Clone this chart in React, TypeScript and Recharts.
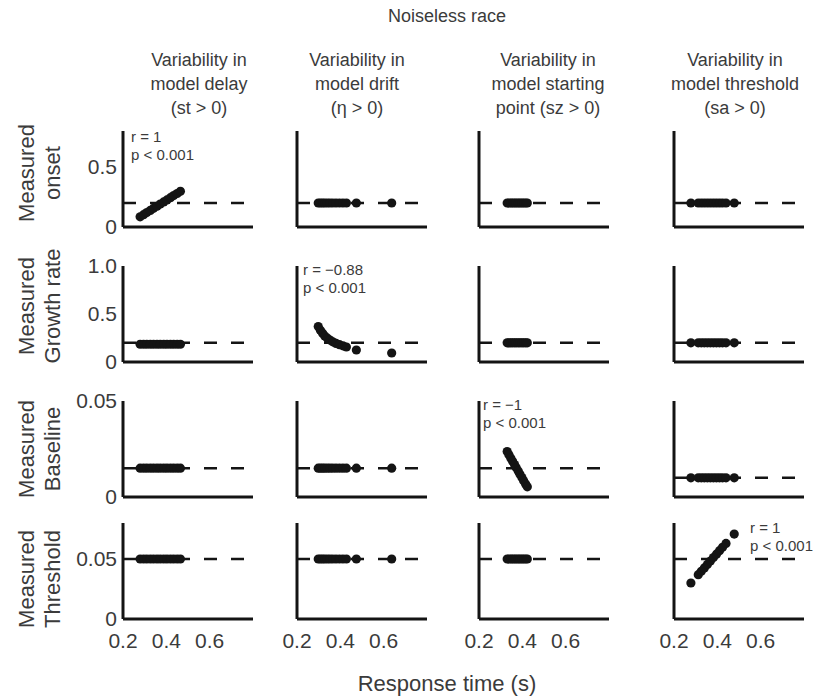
import React from 'react';
import { ScatterChart, Scatter, XAxis, YAxis, ReferenceLine } from 'recharts';

// ---------- text ----------
const figureTitle = 'Noiseless race';
const xAxisTitle = 'Response time (s)';
const columnTitles = [
  ['Variability in', 'model delay', '(st > 0)'],
  ['Variability in', 'model drift', '(η > 0)'],
  ['Variability in', 'model starting', 'point (sz > 0)'],
  ['Variability in', 'model threshold', '(sa > 0)'],
];
const rowTitles = [
  ['Measured', 'onset'],
  ['Measured', 'Growth rate'],
  ['Measured', 'Baseline'],
  ['Measured', 'Threshold'],
];

// ---------- axes ----------
const xDomain = [0.2, 0.8];
const xTicks = [0.2, 0.4, 0.6];
const xTickLabels = ['0.2', '0.4', '0.6'];

const yDomains = [
  [0, 0.8],
  [0, 1],
  [0, 0.05],
  [0, 0.08],
];
const yTicks = [
  [0, 0.5],
  [0, 0.5, 1],
  [0, 0.05],
  [0, 0.05],
];
const yTickLabels = [
  ['0', '0.5'],
  ['0', '0.5', '1.0'],
  ['0', '0.05'],
  ['0', '0.05'],
];

// generating parameter value of each row (dashed line), per column
const trueValues = [
  [0.2, 0.2, 0.2, 0.2],
  [0.2, 0.2, 0.2, 0.2],
  [0.015, 0.015, 0.015, 0.01],
  [0.05, 0.05, 0.05, 0.05],
];

// ---------- data: variability in delay (st > 0) ----------
const rtDelay = [0.279, 0.295, 0.31, 0.326, 0.341, 0.357, 0.372, 0.388, 0.403, 0.419, 0.434, 0.45, 0.465];
const onsetDelay = [0.085, 0.103, 0.12, 0.138, 0.156, 0.173, 0.191, 0.209, 0.226, 0.244, 0.262, 0.279, 0.297];
const growthDelay = [0.185, 0.185, 0.185, 0.185, 0.185, 0.185, 0.185, 0.185, 0.185, 0.185, 0.185, 0.185, 0.185];
const baselineDelay = [0.015, 0.015, 0.015, 0.015, 0.015, 0.015, 0.015, 0.015, 0.015, 0.015, 0.015, 0.015, 0.015];
const thresholdDelay = [0.05, 0.05, 0.05, 0.05, 0.05, 0.05, 0.05, 0.05, 0.05, 0.05, 0.05, 0.05, 0.05];

// ---------- data: variability in drift (eta > 0) ----------
const rtDrift = [0.298, 0.308, 0.318, 0.328, 0.34, 0.352, 0.365, 0.38, 0.396, 0.412, 0.428, 0.474, 0.637];
const onsetDrift = [0.2, 0.2, 0.2, 0.2, 0.2, 0.2, 0.2, 0.2, 0.2, 0.2, 0.2, 0.2, 0.2];
const growthDrift = [0.37, 0.33, 0.3, 0.272, 0.248, 0.228, 0.21, 0.194, 0.18, 0.168, 0.156, 0.125, 0.094];
const baselineDrift = [0.015, 0.015, 0.015, 0.015, 0.015, 0.015, 0.015, 0.015, 0.015, 0.015, 0.015, 0.015, 0.015];
const thresholdDrift = [0.05, 0.05, 0.05, 0.05, 0.05, 0.05, 0.05, 0.05, 0.05, 0.05, 0.05, 0.05, 0.05];

// ---------- data: variability in starting point (sz > 0) ----------
const rtStart = [0.33, 0.338, 0.347, 0.355, 0.364, 0.372, 0.381, 0.389, 0.398, 0.406, 0.415, 0.423];
const onsetStart = [0.2, 0.2, 0.2, 0.2, 0.2, 0.2, 0.2, 0.2, 0.2, 0.2, 0.2, 0.2];
const growthStart = [0.2, 0.2, 0.2, 0.2, 0.2, 0.2, 0.2, 0.2, 0.2, 0.2, 0.2, 0.2];
const baselineStart = [0.0237, 0.022, 0.0202, 0.0186, 0.0169, 0.0152, 0.0135, 0.0118, 0.0101, 0.0085, 0.0068, 0.0053];
const thresholdStart = [0.05, 0.05, 0.05, 0.05, 0.05, 0.05, 0.05, 0.05, 0.05, 0.05, 0.05, 0.05];

// ---------- data: variability in threshold (sa > 0) ----------
const rtThreshold = [0.278, 0.312, 0.326, 0.34, 0.354, 0.368, 0.382, 0.396, 0.41, 0.424, 0.44, 0.478];
const onsetThreshold = [0.2, 0.2, 0.2, 0.2, 0.2, 0.2, 0.2, 0.2, 0.2, 0.2, 0.2, 0.2];
const growthThreshold = [0.2, 0.2, 0.2, 0.2, 0.2, 0.2, 0.2, 0.2, 0.2, 0.2, 0.2, 0.2];
const baselineThreshold = [0.01, 0.01, 0.01, 0.01, 0.01, 0.01, 0.01, 0.01, 0.01, 0.01, 0.01, 0.01];
const thresholdThreshold = [0.03, 0.0369, 0.0398, 0.0426, 0.0455, 0.0483, 0.0512, 0.054, 0.0569, 0.0598, 0.063, 0.0708];

// correlation statistics shown in some panels
const statRows = [0, 1, 2, 3];
const statCols = [0, 1, 2, 3];
const statR = ['r = 1', 'r = −0.88', 'r = −1', 'r = 1'];
const statP = ['p < 0.001', 'p < 0.001', 'p < 0.001', 'p < 0.001'];

const responseTimes = [rtDelay, rtDrift, rtStart, rtThreshold];
const measured = [
  [onsetDelay, onsetDrift, onsetStart, onsetThreshold],
  [growthDelay, growthDrift, growthStart, growthThreshold],
  [baselineDelay, baselineDrift, baselineStart, baselineThreshold],
  [thresholdDelay, thresholdDrift, thresholdStart, thresholdThreshold],
];

// ---------- layout ----------
const FONT = '"Liberation Sans", Arial, Helvetica, sans-serif';
const TEXT = '#3b3b3b';
const INK = '#141414';

const COL_X = [123, 297, 479, 674];
const ROW_TOP = [131, 266, 401, 523];
const PLOT_W = 130;
const PLOT_H = 96;
const Y_AXIS_W = 60;
const M_TOP = 18; // room above the plot for the top tick label
const M_RIGHT = 20;
const M_BOTTOM = 2;

const COL_TITLE_X = [199, 357, 548, 735];
const ROW_TITLE_Y = [173, 306, 449, 579];
const STAT_OFFSET = [
  [8, -3],
  [6, -5],
  [4, -5],
  [76, -4],
];

function Dot(props: any) {
  const { cx, cy } = props;
  if (cx == null || cy == null) return null;
  return <circle cx={cx} cy={cy} r={4.6} fill={INK} />;
}

function Panel({ row, col }: { row: number; col: number }) {
  const isBottom = row === 3;
  const isLeft = col === 0;
  // leave room under the x axis so the "0" tick label is not clipped
  const xAxisH = isBottom ? 44 : 14;
  const width = Y_AXIS_W + PLOT_W + M_RIGHT;
  const height = M_TOP + PLOT_H + xAxisH + M_BOTTOM;
  const data = responseTimes[col].map((x, i) => ({ x, y: measured[row][col][i] }));
  const yLabels = yTickLabels[row];
  const yVals = yTicks[row];
  return (
    <div
      style={{
        position: 'absolute',
        left: COL_X[col] - Y_AXIS_W,
        top: ROW_TOP[row] - M_TOP,
        width,
        height,
      }}
    >
      <ScatterChart
        width={width}
        height={height}
        margin={{ top: M_TOP, right: M_RIGHT, bottom: M_BOTTOM, left: 0 }}
      >
        <XAxis
          type="number"
          dataKey="x"
          domain={xDomain}
          ticks={xTicks}
          allowDataOverflow
          height={xAxisH}
          axisLine={{ stroke: INK, strokeWidth: 3 }}
          tickLine={false}
          tickSize={6}
          tickMargin={8}
          tick={isBottom ? { fontSize: 21, fill: TEXT, fontFamily: FONT } : false}
          tickFormatter={(v: number) => xTickLabels[xTicks.indexOf(v)] ?? String(v)}
        />
        <YAxis
          type="number"
          dataKey="y"
          domain={yDomains[row]}
          ticks={yVals}
          allowDataOverflow
          width={Y_AXIS_W}
          axisLine={{ stroke: INK, strokeWidth: 3 }}
          tickLine={false}
          tickSize={4}
          tickMargin={2}
          interval={0}
          tick={isLeft ? { fontSize: 21, fill: TEXT, fontFamily: FONT } : false}
          tickFormatter={(v: number) => yLabels[yVals.indexOf(v)] ?? String(v)}
        />
        <ReferenceLine
          y={trueValues[row][col]}
          stroke={INK}
          strokeWidth={2.6}
          strokeDasharray="13 14"
        />
        <Scatter data={data} shape={Dot} isAnimationActive={false} />
      </ScatterChart>
    </div>
  );
}

export default function App() {
  const textBase: React.CSSProperties = {
    position: 'absolute',
    fontFamily: FONT,
    color: TEXT,
    whiteSpace: 'nowrap',
    textAlign: 'center',
  };
  const panels = [];
  for (let r = 0; r < 4; r++) {
    for (let c = 0; c < 4; c++) {
      panels.push(<Panel key={`${r}-${c}`} row={r} col={c} />);
    }
  }
  return (
    <div
      style={{
        position: 'absolute',
        left: 0,
        top: 0,
        width: 819,
        height: 696,
        background: '#ffffff',
        overflow: 'hidden',
      }}
    >
      {panels}

      <div style={{ ...textBase, left: 347, top: 5, width: 200, fontSize: 18, lineHeight: '22px' }}>
        {figureTitle}
      </div>

      {columnTitles.map((lines, c) => (
        <div
          key={`ct-${c}`}
          style={{
            ...textBase,
            left: COL_TITLE_X[c] - 90,
            top: 48,
            width: 180,
            fontSize: 18,
            lineHeight: '24px',
          }}
        >
          {lines.map((t, i) => (
            <div key={i}>{t}</div>
          ))}
        </div>
      ))}

      {rowTitles.map((lines, r) => (
        <div
          key={`rt-${r}`}
          style={{
            ...textBase,
            left: 40 - 75,
            top: ROW_TITLE_Y[r] - 26,
            width: 150,
            height: 52,
            fontSize: 22,
            lineHeight: '26px',
            transform: 'rotate(-90deg)',
            transformOrigin: '50% 50%',
          }}
        >
          {lines.map((t, i) => (
            <div key={i}>{t}</div>
          ))}
        </div>
      ))}

      {statRows.map((r, i) => {
        const c = statCols[i];
        return (
          <div
            key={`st-${i}`}
            style={{
              ...textBase,
              textAlign: 'left',
              left: COL_X[c] + STAT_OFFSET[i][0],
              top: ROW_TOP[r] + STAT_OFFSET[i][1],
              fontSize: 15,
              lineHeight: '18px',
            }}
          >
            <div>{statR[i]}</div>
            <div>{statP[i]}</div>
          </div>
        );
      })}

      <div style={{ ...textBase, left: 297, top: 671, width: 300, fontSize: 22, lineHeight: '26px' }}>
        {xAxisTitle}
      </div>
    </div>
  );
}
